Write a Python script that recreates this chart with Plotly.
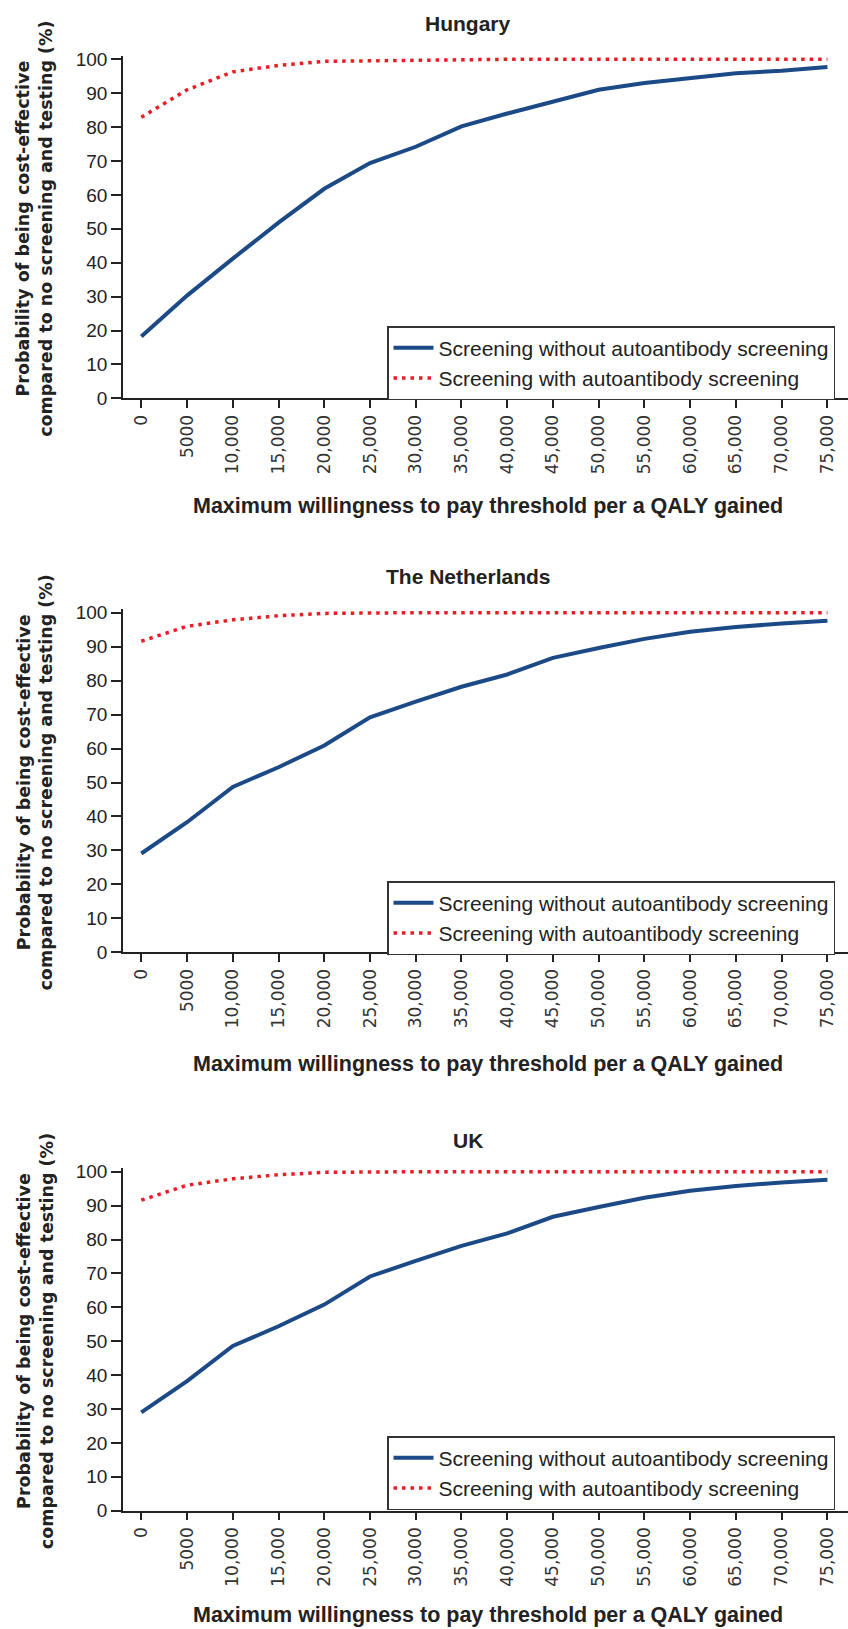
import plotly.graph_objects as go

wtp = [0, 5000, 10000, 15000, 20000, 25000, 30000, 35000, 40000, 45000,
       50000, 55000, 60000, 65000, 70000, 75000]
tick_labels = ["0", "5000", "10,000", "15,000", "20,000", "25,000", "30,000", "35,000",
               "40,000", "45,000", "50,000", "55,000", "60,000", "65,000", "70,000", "75,000"]

countries = ["Hungary", "The Netherlands", "UK"]

hungary_without = [18.2, 30.3, 41.2, 51.8, 61.8, 69.4, 74.2, 80.2, 84.0, 87.6,
                   91.0, 93.0, 94.4, 95.9, 96.6, 97.7]
hungary_with = [82.9, 91.0, 96.3, 98.2, 99.4, 99.6, 99.8, 99.9, 100, 100,
                100, 100, 100, 100, 100, 100]

netherlands_without = [29.1, 38.3, 48.7, 54.5, 60.9, 69.2, 73.8, 78.2, 81.8, 86.7,
                       89.6, 92.3, 94.4, 95.8, 96.8, 97.6]
netherlands_with = [91.6, 96.0, 97.9, 99.1, 99.8, 100, 100, 100, 100, 100,
                    100, 100, 100, 100, 100, 100]

uk_without = [29.0, 38.2, 48.6, 54.4, 60.8, 69.1, 73.7, 78.1, 81.8, 86.7,
              89.6, 92.3, 94.4, 95.8, 96.8, 97.6]
uk_with = [91.6, 96.0, 97.9, 99.1, 99.8, 100, 100, 100, 100, 100,
           100, 100, 100, 100, 100, 100]

series_without = [hungary_without, netherlands_without, uk_without]
series_with = [hungary_with, netherlands_with, uk_with]

name_without = "Screening without autoantibody screening"
name_with = "Screening with autoantibody screening"
x_title = "Maximum willingness to pay threshold per a QALY gained"
y_title = "Probability of being cost-effective<br>compared to no screening and testing (%)"

W, H = 848, 1629
BLUE = "#1c4a86"
RED = "#ec1c24"
AX = "#222222"
SANS = "Liberation Sans, Arial, sans-serif"
YMAX = 101.0

# panel geometry in pixels (y=100 position, y=0 position, title y, x-title y, legend top)
panels = [
    dict(top=59.3, bot=398.3, title=24, xt=506, leg=326),
    dict(top=612.7, bot=952.3, title=576, xt=1064, leg=881),
    dict(top=1171.7, bot=1510.7, title=1140, xt=1615, leg=1436),
]

fig = go.Figure()
layout = dict(
    width=W, height=H,
    margin=dict(l=0, r=0, t=0, b=0, pad=0, autoexpand=False),
    paper_bgcolor="white", plot_bgcolor="white",
    showlegend=True,
    annotations=[],
)

x0_px = 123.0
for i, (c, p) in enumerate(zip(countries, panels)):
    k = "" if i == 0 else str(i + 1)
    legname = "legend" if i == 0 else f"legend{i + 1}"
    fig.add_trace(go.Scatter(
        x=wtp, y=series_without[i], mode="lines", name=name_without,
        line=dict(color=BLUE, width=4), xaxis="x" + k, yaxis="y" + k,
        legend=legname, cliponaxis=False,
    ))
    fig.add_trace(go.Scatter(
        x=wtp, y=series_with[i], mode="lines", name=name_with,
        line=dict(color=RED, width=3.5, dash="3.5px,5px"), xaxis="x" + k, yaxis="y" + k,
        legend=legname, cliponaxis=False,
    ))
    ppu = (p["bot"] - p["top"]) / 100.0
    top_px = p["bot"] - YMAX * ppu
    ydom = [1 - p["bot"] / H, 1 - top_px / H]
    layout["xaxis" + k] = dict(
        domain=[x0_px / W, 1.0], anchor="y" + k,
        range=[-2000, 77250], automargin=False,
        tickmode="array", tickvals=wtp, ticktext=tick_labels, tickangle=-90,
        ticks="outside", ticklen=8, tickwidth=1.5, tickcolor=AX,
        showline=True, linecolor=AX, linewidth=1.5,
        showgrid=False, zeroline=False,
        tickfont=dict(family="DejaVu Sans, sans-serif", size=17, color="#333333"),
    )
    layout["yaxis" + k] = dict(
        domain=ydom, anchor="x" + k,
        range=[0, YMAX], automargin=False,
        tickmode="array", tickvals=list(range(0, 101, 10)),
        ticks="outside", ticklen=10, tickwidth=1.5, tickcolor=AX,
        showline=True, linecolor=AX, linewidth=1.5,
        showgrid=False, zeroline=False,
        tickfont=dict(family=SANS, size=19, color=AX),
    )
    layout[legname] = dict(
        x=387 / W, y=1 - p["leg"] / H, xanchor="left", yanchor="top",
        xref="paper", yref="paper",
        bgcolor="white", bordercolor="#333333", borderwidth=1.5,
        font=dict(family=SANS, size=21, color=AX),
        tracegroupgap=0, itemwidth=40,
    )
    layout["annotations"].append(dict(
        text="<b>" + c + "</b>", x=468 / W, y=1 - p["title"] / H,
        xref="paper", yref="paper", xanchor="center", yanchor="middle",
        showarrow=False, font=dict(family=SANS, size=21, color=AX),
    ))
    layout["annotations"].append(dict(
        text="<b>" + x_title + "</b>", x=488 / W, y=1 - p["xt"] / H,
        xref="paper", yref="paper", xanchor="center", yanchor="middle",
        showarrow=False, font=dict(family=SANS, size=21.5, color=AX),
    ))
    layout["annotations"].append(dict(
        text="<b>" + y_title + "</b>", x=35 / W, y=1 - (p["top"] + p["bot"]) / 2 / H,
        xref="paper", yref="paper", xanchor="center", yanchor="middle",
        textangle=-90, showarrow=False,
        font=dict(family="DejaVu Sans, sans-serif", size=17.5, color=AX),
    ))

fig.update_layout(**layout)
fig.write_html("out.html")
